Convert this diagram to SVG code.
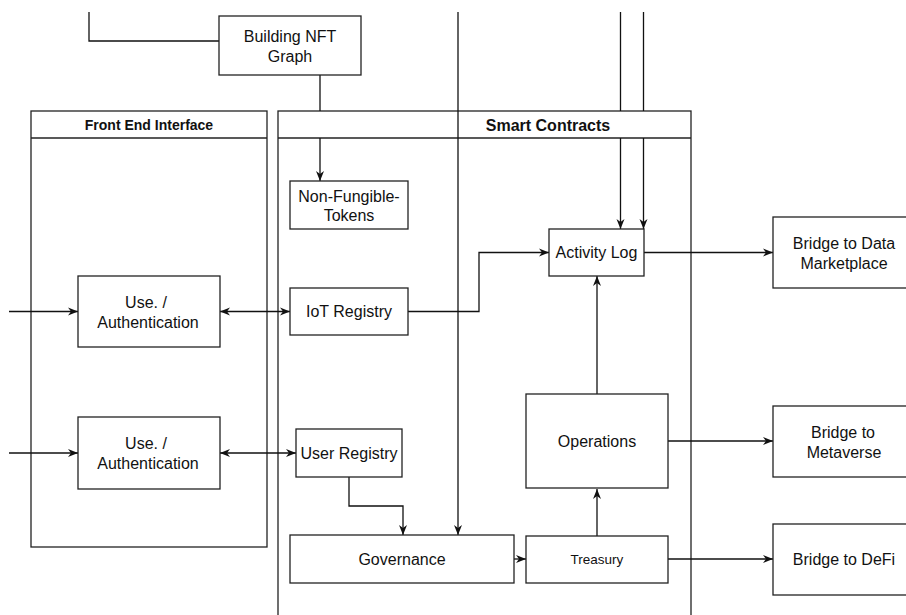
<svg xmlns="http://www.w3.org/2000/svg" width="906" height="615" viewBox="0 0 906 615">
<style>
.box{fill:#fff;stroke:#222;stroke-width:1.3}
.lane{fill:none;stroke:#222;stroke-width:1.3}
.c{fill:none;stroke:#111;stroke-width:1.3}
text{font-family:"Liberation Sans",Arial,sans-serif;fill:#111;text-anchor:middle;dominant-baseline:central}
.t{font-size:16px}
.s{font-size:13.5px}
.h{font-weight:bold}
</style>
<defs>
<marker id="a" viewBox="0 0 10 10" refX="10" refY="5" markerWidth="10" markerHeight="10" markerUnits="userSpaceOnUse" orient="auto-start-reverse">
<path d="M0,1 L10,5 L0,9 L3,5 z" fill="#111"/>
</marker>
</defs>
<rect width="906" height="615" fill="#fff"/>
<g id="front-end-interface">
<rect class="lane" x="31" y="111" width="236" height="436"/>
<line class="lane" x1="31" y1="138" x2="267" y2="138"/>
<text class="h" x="149" y="125" font-size="14">Front End Interface</text>
</g>
<g id="smart-contracts">
<rect class="lane" x="278" y="111" width="413" height="540"/>
<line class="lane" x1="278" y1="138" x2="691" y2="138"/>
<text class="h" x="548" y="125" font-size="16">Smart Contracts</text>
</g>
<g id="connectors">
<path class="c" d="M89,12 V41 H219"/>
<path class="c" d="M320,75 V111 M320,138 V181" marker-end="url(#a)"/>
<path class="c" d="M620.5,12 V111 M620.5,138 V229" marker-end="url(#a)"/>
<path class="c" d="M643.5,12 V111 M643.5,138 V229" marker-end="url(#a)"/>
<path class="c" d="M458,12 V535" marker-end="url(#a)"/>
<path class="c" d="M9,311.5 H78" marker-end="url(#a)"/>
<path class="c" d="M220,311.5 H290" marker-start="url(#a)" marker-end="url(#a)"/>
<path class="c" d="M9,453 H78" marker-end="url(#a)"/>
<path class="c" d="M220,453 H296" marker-start="url(#a)" marker-end="url(#a)"/>
<path class="c" d="M408,311.5 H479 V252.5 H549" marker-end="url(#a)"/>
<path class="c" d="M644,252.5 H773" marker-end="url(#a)"/>
<path class="c" d="M349,477 V506 H403 V535" marker-end="url(#a)"/>
<path class="c" d="M514,559 H526" marker-end="url(#a)"/>
<path class="c" d="M597,536 V489" marker-end="url(#a)"/>
<path class="c" d="M597,394 V276" marker-end="url(#a)"/>
<path class="c" d="M668,441 H773" marker-end="url(#a)"/>
<path class="c" d="M668,559 H773" marker-end="url(#a)"/>
</g>
<g id="building-nft-graph">
<rect class="box" x="219" y="16" width="142" height="59"/>
<text class="t" x="290" y="36">Building NFT</text>
<text class="t" x="290" y="56">Graph</text>
</g>
<g id="non-fungible-tokens">
<rect class="box" x="290" y="181" width="118" height="48"/>
<text class="t" x="349" y="196">Non-Fungible-</text>
<text class="t" x="349" y="215">Tokens</text>
</g>
<g id="activity-log">
<rect class="box" x="549" y="229" width="95" height="47"/>
<text class="t" x="596.5" y="252.5">Activity Log</text>
</g>
<g id="bridge-data-marketplace">
<rect class="box" x="773" y="217" width="150" height="71"/>
<text class="t" x="844" y="243">Bridge to Data</text>
<text class="t" x="844" y="263">Marketplace</text>
</g>
<g id="use-auth-1">
<rect class="box" x="78" y="276" width="142" height="71"/>
<text class="t" x="146" y="302">Use. /</text>
<text class="t" x="148" y="322">Authentication</text>
</g>
<g id="iot-registry">
<rect class="box" x="290" y="288" width="118" height="47"/>
<text class="t" x="349" y="311.5">IoT Registry</text>
</g>
<g id="use-auth-2">
<rect class="box" x="78" y="417" width="142" height="72"/>
<text class="t" x="146" y="443">Use. /</text>
<text class="t" x="148" y="463">Authentication</text>
</g>
<g id="user-registry">
<rect class="box" x="296" y="429" width="106" height="48"/>
<text class="t" x="349" y="453">User Registry</text>
</g>
<g id="governance">
<rect class="box" x="290" y="535" width="224" height="48"/>
<text class="t" x="402" y="559">Governance</text>
</g>
<g id="treasury">
<rect class="box" x="526" y="536" width="142" height="47"/>
<text class="s" x="597" y="559">Treasury</text>
</g>
<g id="operations">
<rect class="box" x="526" y="394" width="142" height="94"/>
<text class="t" x="597" y="441">Operations</text>
</g>
<g id="bridge-metaverse">
<rect class="box" x="773" y="406" width="150" height="71"/>
<text class="t" x="843" y="432">Bridge to</text>
<text class="t" x="844" y="452">Metaverse</text>
</g>
<g id="bridge-defi">
<rect class="box" x="773" y="524" width="150" height="71"/>
<text class="t" x="844" y="559">Bridge to DeFi</text>
</g>
</svg>
